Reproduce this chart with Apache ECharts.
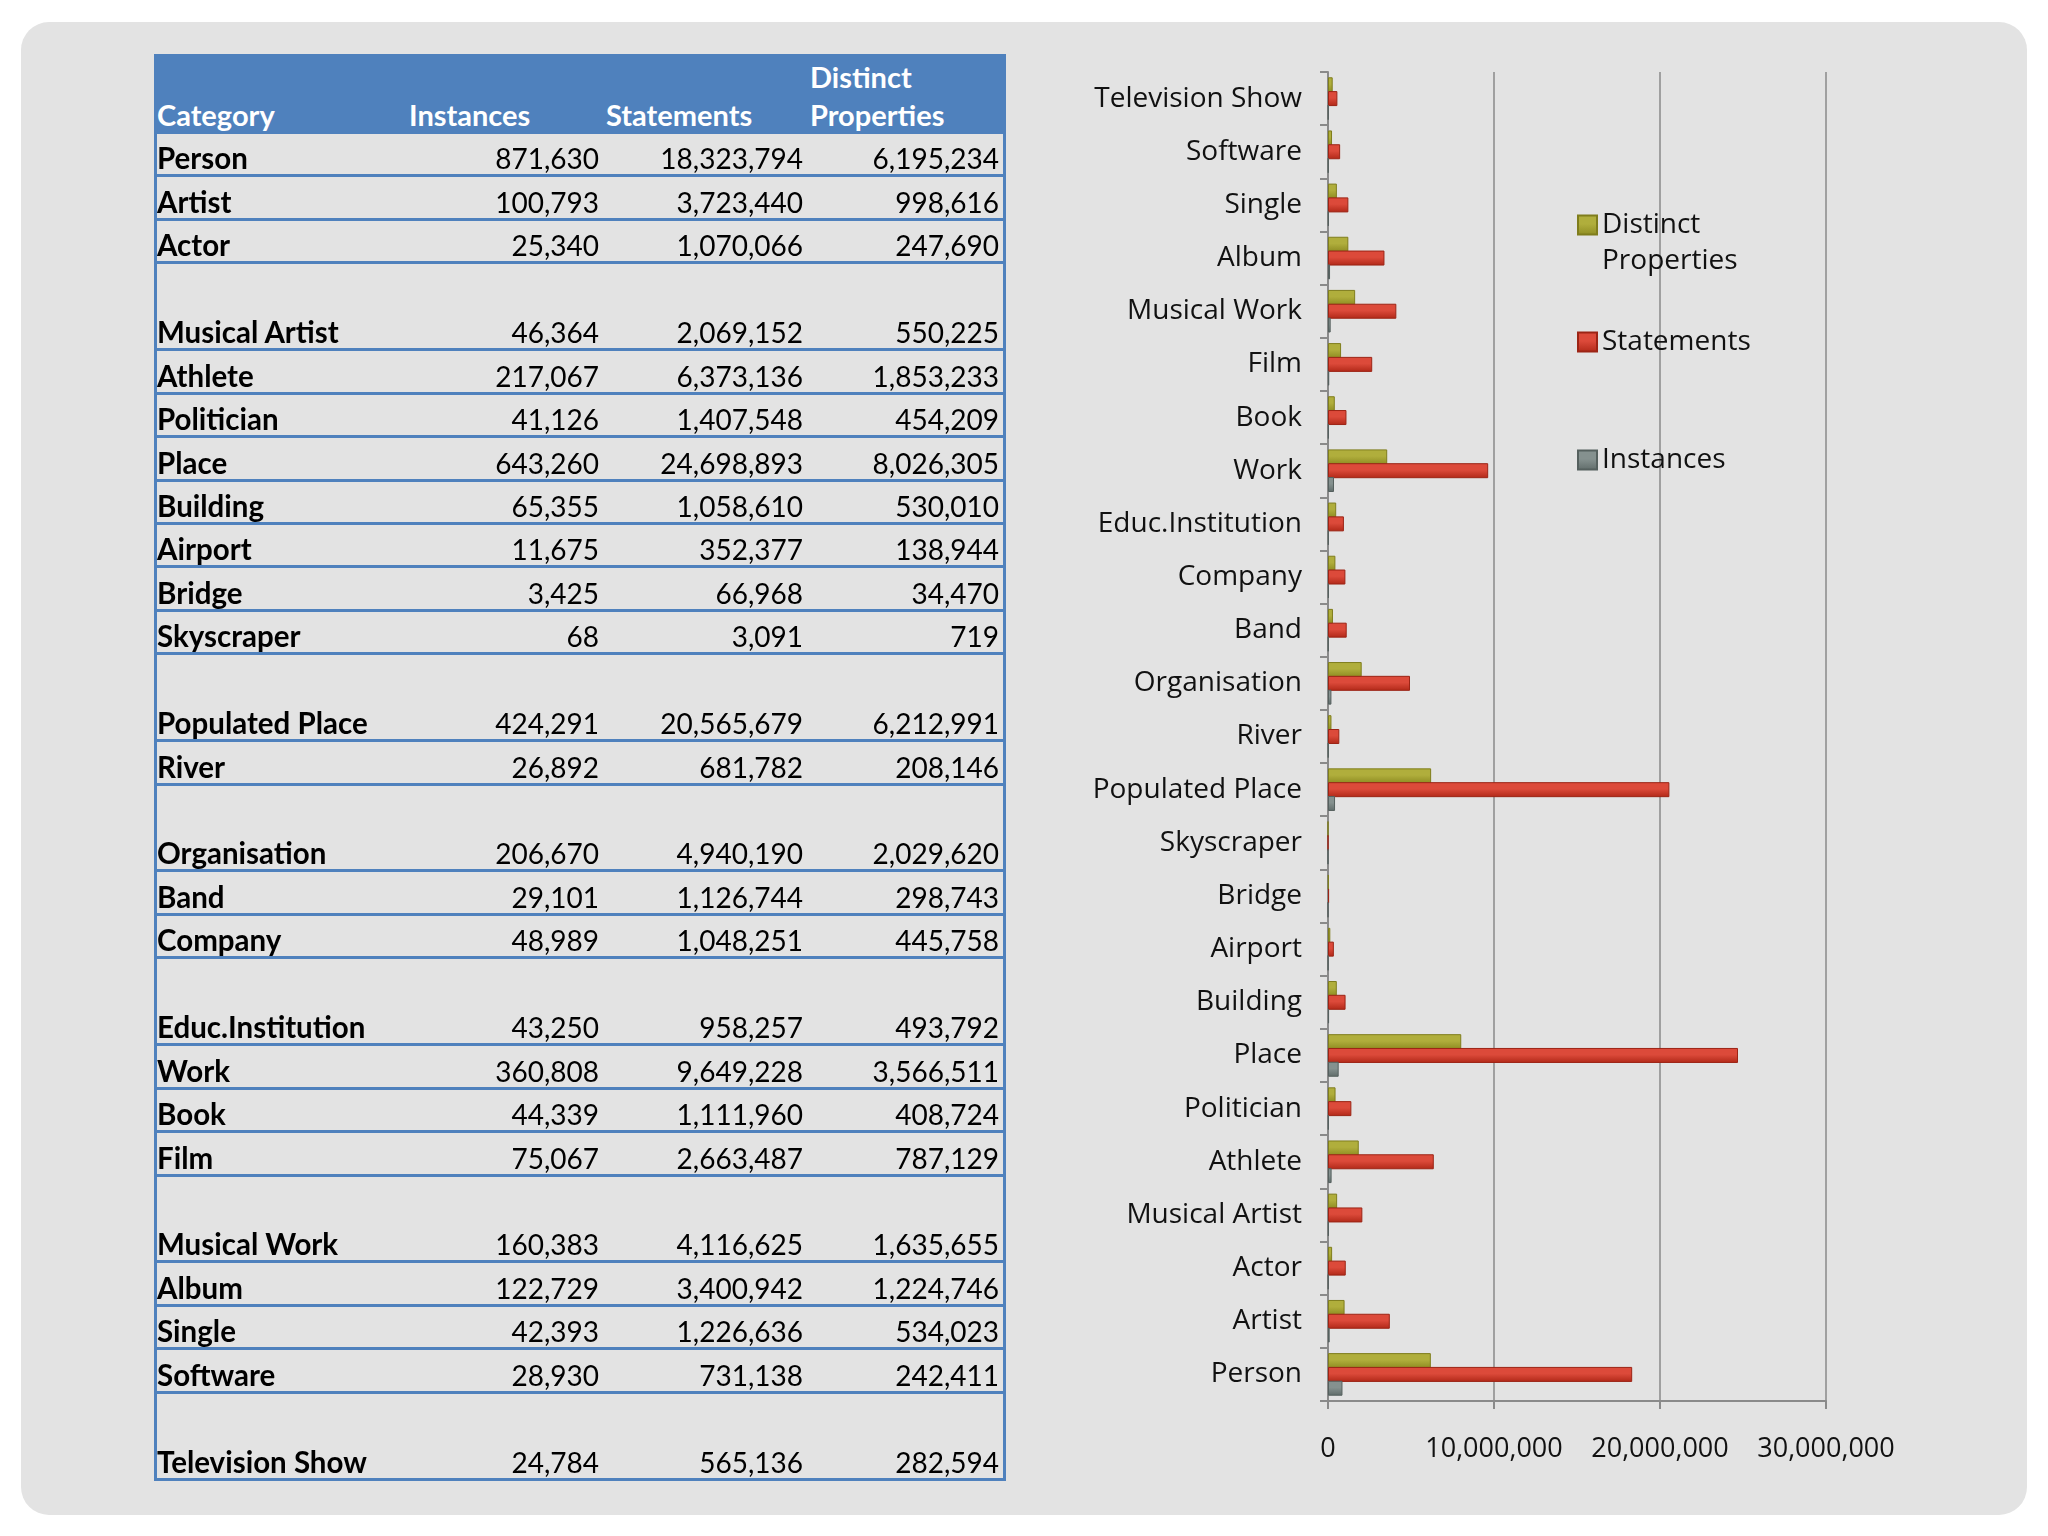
<!DOCTYPE html>
<html>
<head>
<meta charset="utf-8">
<script src="https://cdn.jsdelivr.net/npm/echarts@6/dist/echarts.min.js"></script>
<style>
  html, body { margin: 0; padding: 0; background: #ffffff; }
  #panel { position: absolute; left: 21px; top: 22px; width: 2006px; height: 1493px; border-radius: 28px; background: #e3e3e3; }
  #chart { position: absolute; left: 0; top: 0; width: 2048px; height: 1536px; }
  #table { position: absolute; left: 154px; top: 54px; width: 852px; box-sizing: border-box;
           border-left: 3px solid #4f81bd; border-right: 3px solid #4f81bd;
           font-family: Lato, "Open Sans", sans-serif; font-size: 28px; color: #000; }
  .row { position: relative; box-sizing: border-box; border-bottom: 3px solid #4f81bd; }
  .hdr { background: #4f81bd; color: #fff; font-weight: bold; font-size: 29px; height: 80px; border-bottom: none; }
  .cell { position: absolute; bottom: -2px; line-height: 36px; white-space: nowrap; }
  .hdr .cell { bottom: 0; line-height: 38px; }
  .c0 { left: 0px; font-weight: bold; font-size: 29.5px; }
  .num { text-align: right; }
</style>
</head>
<body>
<div id="panel"></div>
<div id="chart"></div>
<div id="table"></div>
<script>
// ---- data ----
const categories = ['Person','Artist','Actor','Musical Artist','Athlete','Politician','Place','Building','Airport','Bridge','Skyscraper','Populated Place','River','Organisation','Band','Company','Educ.Institution','Work','Book','Film','Musical Work','Album','Single','Software','Television Show'];
const instances = [871630,100793,25340,46364,217067,41126,643260,65355,11675,3425,68,424291,26892,206670,29101,48989,43250,360808,44339,75067,160383,122729,42393,28930,24784];
const statements = [18323794,3723440,1070066,2069152,6373136,1407548,24698893,1058610,352377,66968,3091,20565679,681782,4940190,1126744,1048251,958257,9649228,1111960,2663487,4116625,3400942,1226636,731138,565136];
const distinctProperties = [6195234,998616,247690,550225,1853233,454209,8026305,530010,138944,34470,719,6212991,208146,2029620,298743,445758,493792,3566511,408724,787129,1635655,1224746,534023,242411,282594];
// rows that start a new group (preceded by an empty line in the table)
const groupStarts = ['Musical Artist','Populated Place','Organisation','Educ.Institution','Musical Work','Television Show'];
const headers = ['Category','Instances','Statements','Distinct<br>Properties'];
const seriesNames = ['Distinct Properties','Statements','Instances'];

// ---- table ----
const ROW_H = 43.45;
const cols = [ {left: 0, width: 249}, {left: 249, width: 197}, {left: 446, width: 204}, {left: 650, width: 196} ];
const fmt = v => v.toLocaleString('en-US');
const tbl = document.getElementById('table');
let html = '<div class="row hdr">';
headers.forEach((h, i) => {
  html += `<div class="cell" style="left:${i === 0 ? 0 : cols[i].left + 3}px">${h}</div>`;
});
html += '</div>';
categories.forEach((c, r) => {
  const tall = groupStarts.includes(c);
  const vals = [instances[r], statements[r], distinctProperties[r]];
  html += `<div class="row" style="height:${tall ? 2 * ROW_H : ROW_H}px">`;
  html += `<div class="cell c0">${c}</div>`;
  vals.forEach((v, k) => {
    const col = cols[k + 1];
    html += `<div class="cell num" style="left:${col.left}px;width:${col.width - 4}px">${fmt(v)}</div>`;
  });
  html += '</div>';
});
tbl.innerHTML = html;

// ---- chart ----
const chart = echarts.init(document.getElementById('chart'));
const FONT = '"Open Sans", sans-serif';
function grad(top, bottom) {
  return new echarts.graphic.LinearGradient(0, 0, 0, 1, [
    {offset: 0, color: top}, {offset: 0.45, color: top}, {offset: 1, color: bottom}
  ]);
}
const colors = {
  'Distinct Properties': grad('#b0ae3c', '#8e8c22'),
  'Statements': grad('#dc4a3a', '#b02818'),
  'Instances': grad('#85918f', '#5f6b69')
};
const borders = {'Distinct Properties': '#7f7d1c', 'Statements': '#9c2415', 'Instances': '#55605e'};
const dataBy = {'Distinct Properties': distinctProperties, 'Statements': statements, 'Instances': instances};
const legendText = {'Distinct Properties': ' \nDistinct\nProperties'};

function mkLegend(name, top) {
  return {
    data: [name], left: 1577, top: top, orient: 'vertical', padding: 0,
    itemWidth: 19, itemHeight: 19, itemGap: 0, selectedMode: false, icon: 'rect',
    formatter: n => legendText[n] || n,
    textStyle: {fontFamily: FONT, fontSize: 28, color: '#111', lineHeight: 36}
  };
}

chart.setOption({
  animation: false,
  backgroundColor: 'transparent',
  grid: {left: 1328, top: 72, width: 498, height: 1329, containLabel: false},
  legend: [
    mkLegend('Distinct Properties', 171),
    mkLegend('Statements', 324),
    mkLegend('Instances', 442)
  ],
  xAxis: {
    type: 'value', min: 0, max: 30000000, interval: 10000000,
    axisLine: {show: true, lineStyle: {color: '#8a8a8a', width: 2}},
    axisTick: {show: true, length: 8, lineStyle: {color: '#8a8a8a', width: 2}},
    splitLine: {show: true, lineStyle: {color: '#8a8a8a', width: 1.5}},
    axisLabel: {margin: 35, fontFamily: FONT, fontSize: 27, color: '#111', formatter: v => fmt(v)}
  },
  yAxis: {
    type: 'category', data: categories,
    axisLine: {show: true, lineStyle: {color: '#8a8a8a', width: 2}},
    axisTick: {show: true, length: 8, lineStyle: {color: '#8a8a8a', width: 2}},
    axisLabel: {margin: 26, fontFamily: FONT, fontSize: 28, color: '#111'}
  },
  series: seriesNames.map(n => ({
    name: n, type: 'bar', data: dataBy[n], barWidth: 15, barGap: '-8%',
    itemStyle: {color: colors[n], borderColor: borders[n], borderWidth: 1}
  }))
});
</script>
</body>
</html>
